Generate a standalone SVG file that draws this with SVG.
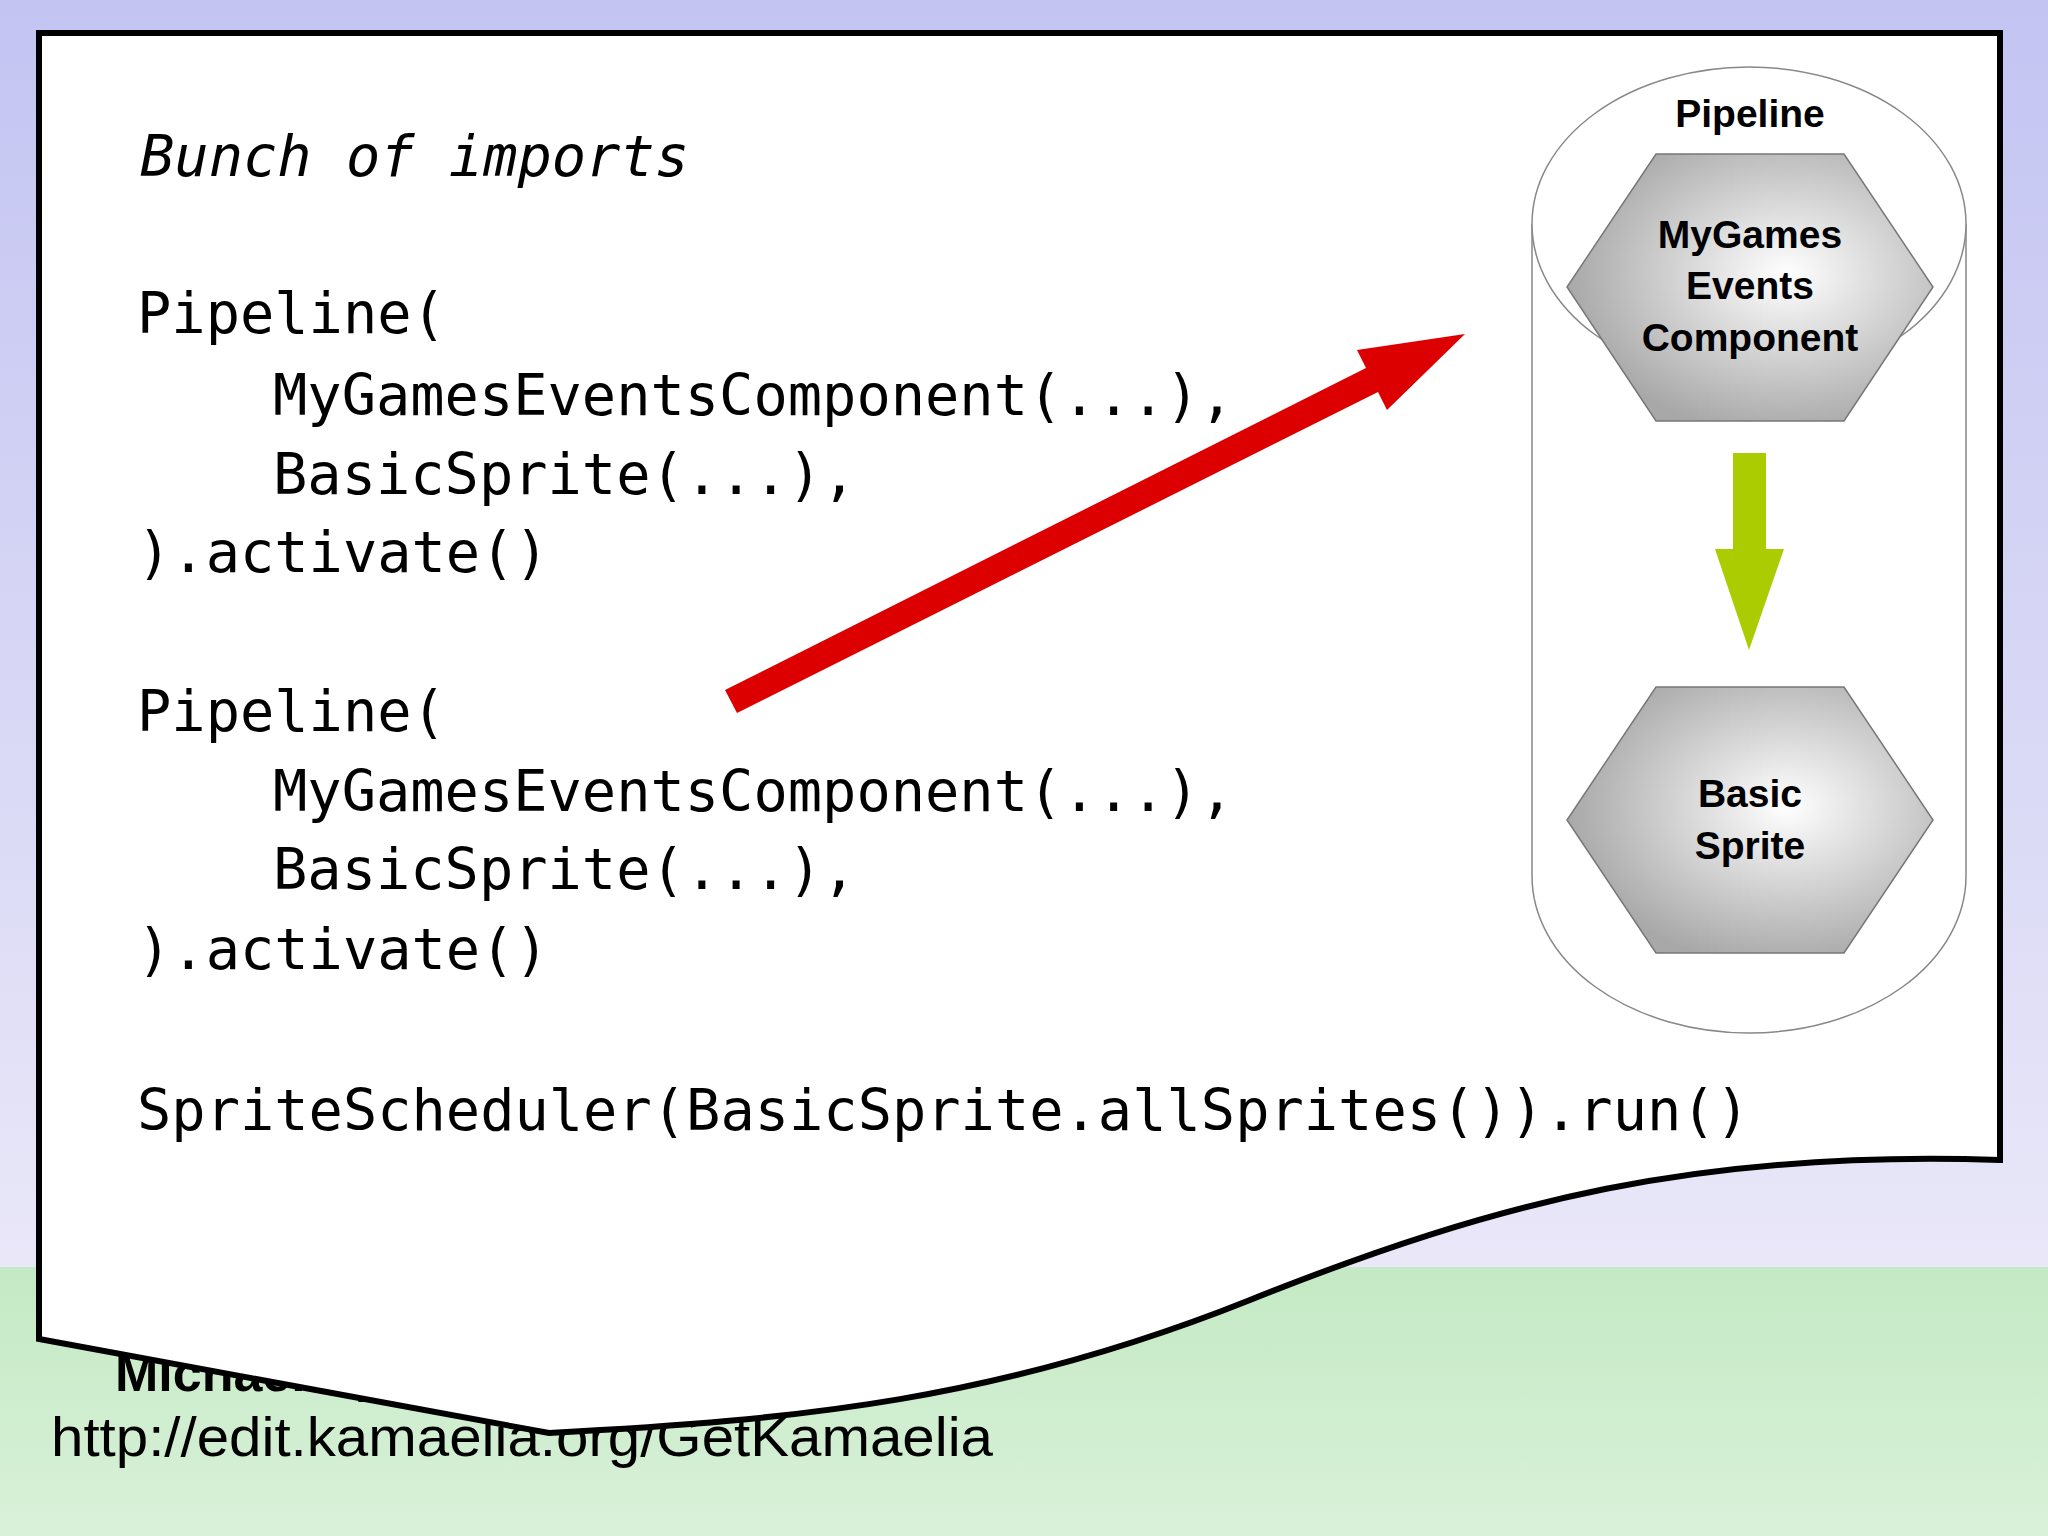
<svg xmlns="http://www.w3.org/2000/svg" width="2048" height="1536" viewBox="0 0 2048 1536">
<defs>
<linearGradient id="sky" x1="0" y1="0" x2="0" y2="1"><stop offset="0" stop-color="#c3c4f2"/><stop offset="1" stop-color="#e9e7f8"/></linearGradient>
<linearGradient id="grass" x1="0" y1="0" x2="0" y2="1"><stop offset="0" stop-color="#c4e9c4"/><stop offset="1" stop-color="#d9f1d9"/></linearGradient>
<radialGradient id="hex" cx="0.6" cy="0.45" r="0.6"><stop offset="0" stop-color="#ffffff"/><stop offset="1" stop-color="#a8a8a8"/></radialGradient>
<style>
.code{font-family:"DejaVu Sans Mono","Liberation Mono",monospace;font-size:57px;fill:#000}
.lbl{font-family:"Liberation Sans",Arial,sans-serif;font-weight:bold;font-size:39px;fill:#000;text-anchor:middle}
.hexs{fill:url(#hex);stroke:#777;stroke-width:1.5}
</style>
</defs>
<rect x="0" y="0" width="2048" height="1267" fill="url(#sky)"/>
<rect x="0" y="1267" width="2048" height="269" fill="url(#grass)"/>
<text x="115" y="1391" font-family="Liberation Sans,Arial,sans-serif" font-weight="bold" font-size="52">Michael Sparks, BBC Research</text>
<text x="51" y="1456" font-family="Liberation Sans,Arial,sans-serif" font-size="56" textLength="942" lengthAdjust="spacingAndGlyphs">http://edit.kamaelia.org/GetKamaelia</text>
<g id="page">
<path d="M39,33 L2000,33 L2000,1160 C1700,1150 1500,1200 1250,1300 C1000,1400 800,1420 549,1433 L39,1339 Z" fill="#fff" stroke="#000" stroke-width="6" stroke-linejoin="miter"/>
</g>
<g id="code">
<text class="code" x="140" y="176" font-style="italic">Bunch of imports</text>
<text class="code" x="137" y="333">Pipeline(</text>
<text class="code" x="273" y="415">MyGamesEventsComponent(...),</text>
<text class="code" x="273" y="494">BasicSprite(...),</text>
<text class="code" x="137" y="572">).activate()</text>
<text class="code" x="137" y="731">Pipeline(</text>
<text class="code" x="273" y="811">MyGamesEventsComponent(...),</text>
<text class="code" x="273" y="889">BasicSprite(...),</text>
<text class="code" x="137" y="969">).activate()</text>
<text class="code" x="137" y="1130">SpriteScheduler(BasicSprite.allSprites()).run()</text>
</g>
<g id="pipeline">
<path d="M1532,224 L1532,876 A217,157 0 0 0 1966,876 L1966,224" fill="#fff" stroke="#888" stroke-width="1.5"/>
<ellipse cx="1749" cy="224" rx="217" ry="157" fill="#fff" stroke="#888" stroke-width="1.5"/>
<text class="lbl" x="1750" y="127">Pipeline</text>
</g>
<g id="hex1">
<polygon class="hexs" points="1656,154 1844,154 1933,287 1844,421 1656,421 1567,287"/>
<text class="lbl" x="1750" y="248">MyGames</text>
<text class="lbl" x="1750" y="299">Events</text>
<text class="lbl" x="1750" y="351">Component</text>
</g>
<g id="hex2">
<polygon class="hexs" points="1656,687 1844,687 1933,820 1844,953 1656,953 1567,820"/>
<text class="lbl" x="1750" y="807">Basic</text>
<text class="lbl" x="1750" y="859">Sprite</text>
</g>
<g id="connectors">
<polygon points="725,690 1366,368 1357,350 1465,334 1387,410 1378,392 737,713" fill="#dd0000"/>
<polygon points="1733,453 1766,453 1766,549 1784,549 1749,650 1715,549 1733,549" fill="#aacc00"/>
</g>
</svg>
